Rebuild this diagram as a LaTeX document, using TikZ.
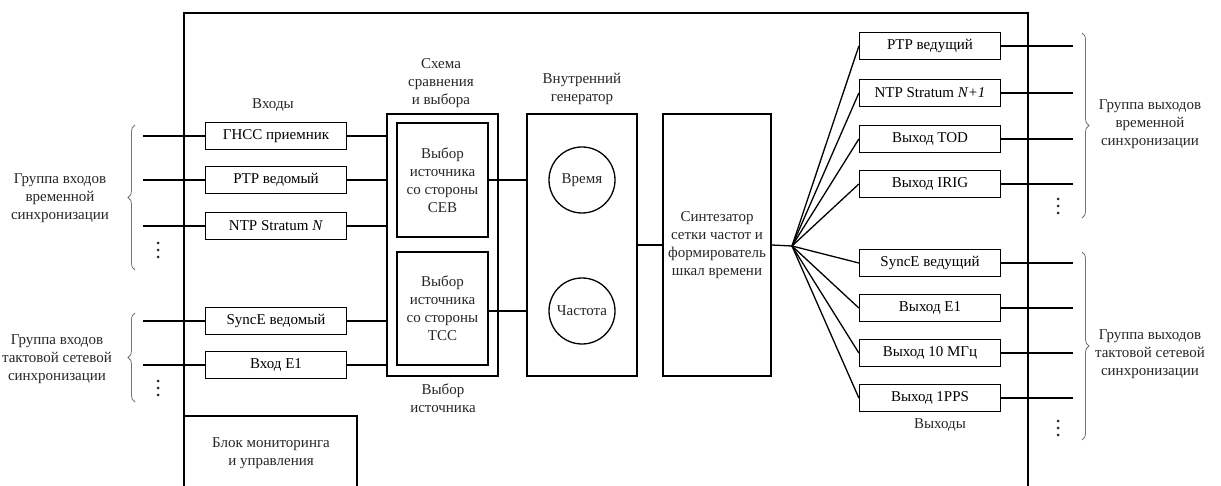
\documentclass[tikz,border=0pt]{standalone}
\usepackage{fontspec}
\setmainfont{Liberation Serif}
\usetikzlibrary{decorations.pathreplacing}

\tikzset{
  wire/.style={line width=1.3pt},
  blk/.style={draw, wire, minimum width=141pt, minimum height=27pt, inner sep=0pt},
  tall/.style={draw, wire, minimum height=262pt, inner sep=0pt, align=center},
  lbl/.style={align=center, inner sep=0pt, text=black!85},
  brc/.style={decorate, decoration={brace, amplitude=7pt}, black!55, line width=0.8pt},
}

\begin{document}
\begin{tikzpicture}[x=1pt, y=-1pt, font=\fontsize{15}{18}\selectfont]
    \useasboundingbox (0,0) rectangle (1221,486);

    % Frame and monitoring block
    \draw[wire] (184,486) -- (184,13) -- (1028,13) -- (1028,486);
    \draw[wire] (184,416) -- (357,416) -- (357,486);
    \node[lbl] (mon) at (271,453) {Блок мониторинга\\и управления};

    % Inputs
    \node[blk] (gnss) at (276,136) {ГНСС приемник};
    \node[blk] (ptpin) at (276,180) {PTP ведомый};
    \node[blk] (ntpin) at (276,226) {NTP Stratum \textit{N}};
    \node[blk] (syncin) at (276,321) {SyncE ведомый};
    \node[blk] (e1in) at (276,365) {Вход Е1};
    \node[lbl] (inlbl) at (273,105) {Входы};

    % Source selection
    \node[tall, minimum width=111pt] (sel) at (442.5,245) {};
    \node[draw, wire, lbl, minimum width=91pt, minimum height=114pt] (selsev) at (442.5,180)
        {Выбор\\источника\\со стороны\\СЕВ};
    \node[draw, wire, lbl, minimum width=91pt, minimum height=113pt] (seltss) at (442.5,308.5)
        {Выбор\\источника\\со стороны\\ТСС};
    \node[lbl] (sellbl) at (441,83) {Схема\\сравнения\\и выбора};
    \node[lbl] (selsrc) at (443,398.5) {Выбор\\источника};

    % Internal generator
    \node[tall, minimum width=110pt] (gen) at (582,245) {};
    \node[draw, wire, circle, lbl, minimum size=66pt] (time) at (582,180) {Время};
    \node[draw, wire, circle, lbl, minimum size=66pt] (freq) at (582,311) {Частота};
    \node[lbl] (genlbl) at (582,89) {Внутренний\\генератор};

    % Synthesizer
    \node[tall, minimum width=108pt, text=black!85] (syn) at (717,245)
        {Синтезатор\\сетки частот и\\формирователь\\шкал времени};
    \coordinate (hub) at (792,246);

    % Outputs
    \node[blk] (ptpout) at (930,46) {PTP ведущий};
    \node[blk] (ntpout) at (930,93) {NTP Stratum \textit{N+1}};
    \node[blk] (todout) at (930,139) {Выход TOD};
    \node[blk] (irigout) at (930,184) {Выход IRIG};
    \node[blk] (syncout) at (930,263) {SyncE ведущий};
    \node[blk] (e1out) at (930,308) {Выход Е1};
    \node[blk] (mhzout) at (930,353) {Выход 10 МГц};
    \node[blk] (ppsout) at (930,398) {Выход 1PPS};
    \node[lbl] (outlbl) at (940,425) {Выходы};

    % Groups
    \node[lbl] (grpin1) at (60,198) {Группа входов\\временной\\синхронизации};
    \node[lbl] (grpin2) at (57,359) {Группа входов\\тактовой сетевой\\синхронизации};
    \node[lbl] (grpout1) at (1150,124) {Группа выходов\\временной\\синхронизации};
    \node[lbl] (grpout2) at (1150,354) {Группа выходов\\тактовой сетевой\\синхронизации};
    \draw[brc] (135,270) -- (135,125);
    \draw[brc] (135,402) -- (135,313);
    \draw[brc] (1082,33) -- (1082,218);
    \draw[brc] (1082,252) -- (1082,440);
    % dots
    \foreach \x/\y in {158/250, 158/388, 1058/206, 1058/428}
        \foreach \d in {-7,0,7}
            \fill[black!85] (\x,\y+\d) circle (1.5);

    % Edges
    \foreach \n/\y in {gnss/136, ptpin/180, ntpin/226, syncin/321, e1in/365} {
        \coordinate (\n-l) at (143,\y);
        \draw[wire] (\n-l) -- (\n.west);
        \draw[wire] (\n.east) -- (\n.east -| sel.west);
    }
    \draw[wire] (selsev.east) -- (selsev.east -| gen.west);
    \draw[wire] (seltss.east |- freq) -- (gen.west |- freq);
    \draw[wire] (gen.east) -- (syn.west);
    \draw[wire] (syn.east) -- (hub);
    \foreach \n in {ptpout, ntpout, todout, irigout, syncout, e1out, mhzout, ppsout} {
        \coordinate (\n-r) at (1073,0 |- \n.east);
        \draw[wire] (hub) -- (\n.west);
        \draw[wire] (\n.east) -- (\n-r);
    }
\end{tikzpicture}
\end{document}
